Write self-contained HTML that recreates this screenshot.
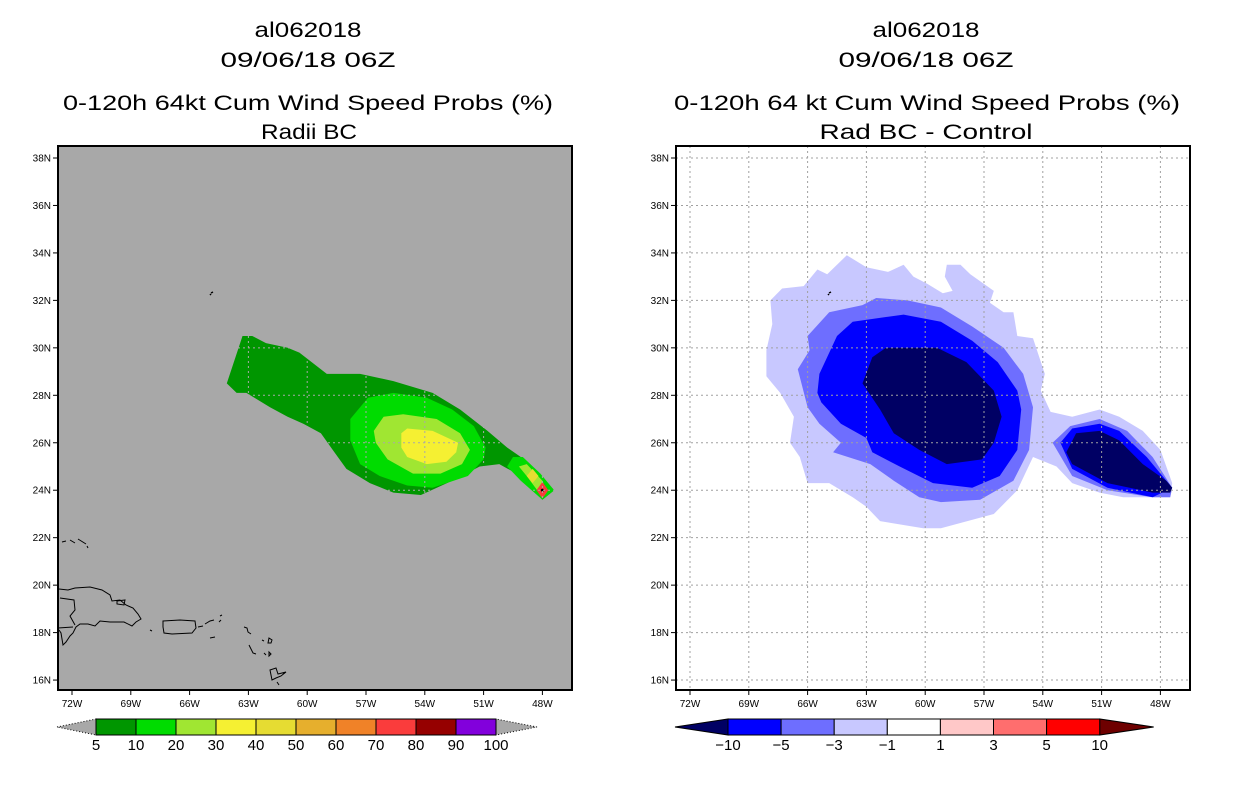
<!DOCTYPE html>
<html><head><meta charset="utf-8">
<style>
html,body{margin:0;padding:0;background:#fff;}
svg{display:block;font-family:"Liberation Sans",sans-serif;}
.t{font-size:21px;text-anchor:middle;fill:#000;}
.tk{font-size:10px;fill:#000;}
.cb{font-size:15px;text-anchor:middle;fill:#000;}
</style></head>
<body>
<svg id="fig" width="1236" height="800" viewBox="0 0 1236 800" xmlns="http://www.w3.org/2000/svg">
<rect width="1236" height="800" fill="#fff"/>
<g>
<text class="t" x="308" y="37" textLength="107" lengthAdjust="spacingAndGlyphs">al062018</text>
<text class="t" x="308" y="67" textLength="175" lengthAdjust="spacingAndGlyphs">09/06/18 06Z</text>
<text class="t" x="308" y="110" textLength="490" lengthAdjust="spacingAndGlyphs">0-120h 64kt Cum Wind Speed Probs (%)</text>
<text class="t" x="309" y="139" textLength="96" lengthAdjust="spacingAndGlyphs">Radii BC</text>
</g>
<g>
<text class="t" x="926" y="37" textLength="107" lengthAdjust="spacingAndGlyphs">al062018</text>
<text class="t" x="926" y="67" textLength="175" lengthAdjust="spacingAndGlyphs">09/06/18 06Z</text>
<text class="t" x="927" y="110" textLength="506" lengthAdjust="spacingAndGlyphs">0-120h 64 kt Cum Wind Speed Probs (%)</text>
<text class="t" x="926" y="139" textLength="213" lengthAdjust="spacingAndGlyphs">Rad BC - Control</text>
</g>
<g id="left"></g>
<g id="right"></g>
<g id="cbl"></g>
<g id="cbr"></g>
</svg>
<script>
const latTicks=[38,36,34,32,30,28,26,24,22,20,18,16];
const lonTicks=[72,69,66,63,60,57,54,51,48];
// left panel contours [lonE, latN]
const probLevelColors=["#009600","#00dc00","#a0e632","#f5f032"];
const prob5=[[-64.1,28.5],[-63.3,30.5],[-62.8,30.5],[-62.1,30.2],[-61.0,30.0],[-60.4,29.8],[-59.0,28.9],[-57.3,28.9],[-55.6,28.6],[-53.6,28.1],[-52.2,27.4],[-50.8,26.5],[-49.8,25.8],[-49.1,25.4],[-48.1,24.6],[-47.4,24.0],[-48.0,23.6],[-49.1,24.6],[-50.2,25.1],[-51.2,25.0],[-52.6,24.4],[-54.2,23.8],[-55.6,23.9],[-56.8,24.3],[-58.0,24.9],[-58.7,25.7],[-59.3,26.4],[-60.2,26.8],[-61.0,27.1],[-61.9,27.5],[-63.1,28.1],[-63.6,28.1]];
const prob10=[[-57.8,27.0],[-56.9,27.9],[-55.6,28.1],[-53.9,27.9],[-52.6,27.4],[-51.5,26.7],[-50.9,25.8],[-51.0,25.3],[-51.8,24.6],[-53.6,24.1],[-54.9,24.2],[-56.3,24.6],[-57.3,25.1],[-57.8,26.1]];
const prob20=[[-56.6,26.5],[-56.1,27.1],[-55.1,27.2],[-53.4,27.0],[-52.2,26.4],[-51.7,25.7],[-52.1,25.1],[-53.2,24.7],[-54.6,24.7],[-55.9,25.3],[-56.5,26.0]];
const prob30=[[-55.2,26.4],[-54.9,26.6],[-53.6,26.5],[-52.3,26.0],[-52.4,25.6],[-52.9,25.2],[-53.9,25.1],[-54.9,25.4],[-55.2,25.8]];
const tail10=[[-49.8,25.0],[-49.5,25.4],[-49.0,25.4],[-48.1,24.7],[-47.4,24.0],[-48.0,23.6],[-49.1,24.4]];
const tail20=[[-49.2,25.0],[-48.8,25.1],[-48.0,24.4],[-47.8,24.0],[-48.0,23.7],[-48.8,24.6]];
const tail40=[[-48.5,24.9],[-48.2,24.6],[-48.5,24.3],[-48.8,24.6]];
const tail70=[[-48.0,24.35],[-47.7,24.0],[-48.0,23.65],[-48.3,24.0]];
// right panel difference contours
const diffColors=["#c8c8ff","#6e6eff","#0000ff","#000064"];
const diffM1=[[-67.9,32.0],[-67.3,32.5],[-66.2,32.6],[-65.5,33.3],[-65.0,33.1],[-64.0,33.9],[-63.0,33.4],[-61.9,33.2],[-61.1,33.5],[-60.6,33.0],[-59.9,32.7],[-59.1,32.3],[-58.6,32.4],[-59.0,33.0],[-58.9,33.5],[-58.2,33.5],[-57.7,33.1],[-56.5,32.4],[-56.7,31.9],[-56.0,31.5],[-55.5,31.5],[-55.3,30.5],[-54.5,30.4],[-53.9,28.9],[-54.1,28.2],[-53.6,27.3],[-52.5,27.1],[-51.1,27.4],[-50.1,27.1],[-48.9,26.5],[-48.0,25.7],[-47.4,24.3],[-47.5,23.7],[-48.4,23.7],[-49.9,23.7],[-51.1,23.9],[-52.5,24.3],[-53.3,25.0],[-54.5,25.4],[-55.3,24.0],[-56.5,23.0],[-59.2,22.4],[-60.1,22.4],[-62.3,22.7],[-63.0,23.3],[-63.7,23.7],[-64.9,24.3],[-66.0,24.3],[-66.4,25.4],[-66.9,26.0],[-66.7,27.1],[-67.4,28.1],[-68.1,28.8],[-68.1,29.9],[-67.8,31.0]];
const diffM3=[[-66.0,30.5],[-64.9,31.5],[-63.2,31.8],[-62.5,32.1],[-60.9,32.0],[-59.2,31.7],[-57.6,30.9],[-56.0,30.0],[-55.0,28.9],[-54.5,27.5],[-54.7,25.7],[-55.5,24.4],[-57.2,23.6],[-59.2,23.5],[-60.3,23.7],[-61.6,24.4],[-62.8,25.1],[-64.7,25.6],[-64.3,26.0],[-65.4,26.8],[-66.0,27.5],[-66.5,29.1],[-65.9,29.9]];
const diffM5=[[-65.4,28.9],[-64.5,30.5],[-63.7,31.1],[-62.0,31.3],[-61.1,31.4],[-59.2,31.1],[-57.6,30.3],[-56.3,29.4],[-55.3,28.2],[-55.1,27.4],[-55.3,25.7],[-56.2,24.6],[-57.6,24.1],[-59.6,24.3],[-61.3,25.0],[-62.7,25.6],[-63.0,26.2],[-64.3,26.8],[-65.3,27.7],[-65.5,28.1]];
const diffM10=[[-63.2,28.5],[-62.7,29.6],[-62.0,30.0],[-59.4,30.0],[-57.9,29.4],[-56.5,28.2],[-56.1,27.1],[-56.5,26.0],[-57.1,25.3],[-58.9,25.1],[-60.3,25.7],[-61.6,26.4],[-62.3,27.4]];
const tailM3=[[-53.5,26.0],[-52.6,26.7],[-51.1,27.0],[-49.7,26.5],[-48.4,25.4],[-47.4,24.1],[-47.5,23.7],[-48.4,23.7],[-50.7,24.0],[-52.5,24.6]];
const tailM5=[[-53.1,26.0],[-52.5,26.6],[-51.1,26.8],[-50.1,26.5],[-48.7,25.4],[-47.4,24.1],[-48.4,23.7],[-50.7,24.1],[-52.5,24.9]];
const tailM10=[[-52.8,25.6],[-52.3,26.4],[-51.1,26.5],[-50.1,26.1],[-48.9,25.1],[-47.7,24.4],[-47.4,24.1],[-47.5,23.9],[-48.4,23.9],[-50.7,24.3],[-52.5,25.1]];
// colorbars
const probBounds=["5","10","20","30","40","50","60","70","80","90","100"];
const probColors=["#009600","#00dc00","#a0e632","#f5f032","#e6dc32","#e6af2d","#f08228","#fa3c3c","#960000","#8200dc"];
const diffBounds=["\u221210","\u22125","\u22123","\u22121","1","3","5","10"];
const diffBarColors=["#0000ff","#6e6eff","#c8c8ff","#ffffff","#ffc8c8","#ff6e6e","#ff0000"];
const diffEndColors=["#000064","#6e0000"];

const NS="http://www.w3.org/2000/svg";
function mk(tag,attrs,parent){const e=document.createElementNS(NS,tag);for(const k in attrs)e.setAttribute(k,attrs[k]);parent.appendChild(e);return e;}
const PX=19.6, PY=23.73;
function xs(off){return lon=>off+72+(lon+72)*PX;}
function ys(lat){return 158+(38-lat)*PY;}
function poly(pts,fx){return pts.map(p=>fx(p[0]).toFixed(1)+","+ys(p[1]).toFixed(1)).join(" ");}

const coast="M59,589 L68,590 L75,588 L90,587 L102,590 L110,595 L112,601 L120,600 L126,605 L133,608 L138,614 L141,619 L136,622 L132,626 L124,622 L110,622 L100,621 L95,626 L88,624 L80,624 L76,627 L73,633 L70,636 L66,642 L63,645 L61,633 L59,630 M58,628 L73,627 M60,598 L74,600 L75,610 L70,616 L75,625 M117,601 L125,600 L124,605 L117,604 Z M163,621 L180,620 L195,621 L196,628 L192,633 L172,634 L164,633 L163,627 Z M198,627 L203,626 M205,624 L210,621 L214,620 M220,616 L222,615 M219,622 L221,620 M210,638 L215,637 M150,630 L152,631 M244,627 L247,628 L248,632 L251,634 M249,645 L253,653 L256,654 M262,640 L264,641 M269,638 L272,640 L271,643 L268,643 Z M264,653 L266,655 M269,652 L271,654 L269,656 Z M270,670 L276,668 L278,674 L286,672 L281,676 L276,678 L272,680 Z M277,682 L279,685 M62,542 L66,541 M70,540 L75,543 M78,539 L86,544 M87,546 L88,548";

function drawPanel(g,off,isLeft){
  const fx=xs(off);
  const L=58+off,R=572+off,T=146,B=690;
  const bg=mk('rect',{x:L,y:T,width:R-L,height:B-T,fill:isLeft?'#a8a8a8':'#ffffff'},g);
  
  
  const cl=mk('clipPath',{id:'clip'+off},g);
  mk('rect',{x:L,y:T,width:R-L,height:B-T},cl);
  const sh=mk('g',{'clip-path':'url(#clip'+off+')'},g);
  
  
  let layers;
  if(isLeft){
    layers=[[prob5,probLevelColors[0],'prob-5'],[prob10,probLevelColors[1],'prob-10'],[prob20,probLevelColors[2],'prob-20'],[prob30,probLevelColors[3],'prob-30'],
      [tail10,probLevelColors[1],'tail-10'],[tail20,probLevelColors[2],'tail-20'],[tail40,"#e6dc32",'tail-40'],[tail70,"#fa3c3c",'tail-70']];
  } else {
    layers=[[diffM1,diffColors[0],'diff-minus1'],[diffM3,diffColors[1],'diff-minus3'],[diffM5,diffColors[2],'diff-minus5'],[diffM10,diffColors[3],'diff-minus10'],
      [tailM3,diffColors[1],'tail-minus3'],[tailM5,diffColors[2],'tail-minus5'],[tailM10,diffColors[3],'tail-minus10']];
  }
  layers.forEach(l=>{
    const p=mk('polygon',{points:poly(l[0],fx),fill:l[1]},sh);
    
    
  });
  if(isLeft){mk('circle',{cx:fx(-48.0),cy:ys(24.0),r:1.5,fill:'#000'},sh);}
  // grid
  const gr=mk('g',{stroke:isLeft?'#a8a8a8':'#a0a0a0','stroke-width':1,'stroke-dasharray':'2,3'},g);
  
  
  latTicks.forEach(v=>mk('line',{x1:L,x2:R,y1:ys(v),y2:ys(v)},gr));
  lonTicks.forEach(v=>mk('line',{x1:fx(-v),x2:fx(-v),y1:T,y2:B},gr));
  const c=mk('path',{d:coast,fill:'none',stroke:'#000','stroke-width':1,transform:'translate('+off+',0)','clip-path':'url(#clip'+off+')'},g);
  
  
  mk('path',{d:'M211,293 L213,292 M210,295 L211,294',stroke:'#000','stroke-width':1.5,transform:'translate('+off+',0)'},g);
  const fr=mk('rect',{x:L,y:T,width:R-L,height:B-T,fill:'none',stroke:'#000','stroke-width':2},g);
  
  
  latTicks.forEach(v=>{
    mk('line',{x1:L-5,x2:L,y1:ys(v),y2:ys(v),stroke:'#000'},g);
    const t=mk('text',{x:L-7,y:ys(v)+3.5,'text-anchor':'end',class:'tk'},g);
    t.textContent=v+'N';
    
    
  });
  lonTicks.forEach(v=>{
    mk('line',{x1:fx(-v),x2:fx(-v),y1:B,y2:B+5,stroke:'#000'},g);
    const t=mk('text',{x:fx(-v),y:B+17,'text-anchor':'middle',class:'tk'},g);
    t.textContent=v+'W';
    
    
  });
}
drawPanel(document.getElementById('left'),0,true);
drawPanel(document.getElementById('right'),618,false);

// left colorbar
(function(){
  const g=document.getElementById('cbl');
  const x0=96,w=40,y0=719,h=16;
  mk('polygon',{points:`57,727 ${x0},${y0} ${x0},${y0+h}`,fill:'#a8a8a8',stroke:'#000','stroke-dasharray':'1,2'},g);
  const xe=x0+w*probColors.length;
  mk('polygon',{points:`${xe+41},727 ${xe},${y0} ${xe},${y0+h}`,fill:'#a8a8a8',stroke:'#000','stroke-dasharray':'1,2'},g);
  probColors.forEach((c,i)=>{
    const r=mk('rect',{x:x0+i*w,y:y0,width:w,height:h,fill:c,stroke:'#000'},g);
    
    
  });
  probBounds.forEach((b,i)=>{
    const t=mk('text',{x:x0+i*w,y:750,class:'cb'},g);
    t.textContent=b;
    
    
  });
})();
// right colorbar
(function(){
  const g=document.getElementById('cbr');
  const x0=728,w=53.1,y0=719,h=16;
  mk('polygon',{points:`675,727 ${x0},${y0} ${x0},${y0+h}`,fill:diffEndColors[0],stroke:'#000'},g);
  const xe=x0+w*diffBarColors.length;
  mk('polygon',{points:`${xe+54},727 ${xe},${y0} ${xe},${y0+h}`,fill:diffEndColors[1],stroke:'#000'},g);
  diffBarColors.forEach((c,i)=>{
    const r=mk('rect',{x:x0+i*w,y:y0,width:w,height:h,fill:c,stroke:'#000'},g);
    
    
  });
  diffBounds.forEach((b,i)=>{
    const t=mk('text',{x:x0+i*w,y:750,class:'cb'},g);
    t.textContent=b;
    
    
  });
})();
</script>
</body></html>
